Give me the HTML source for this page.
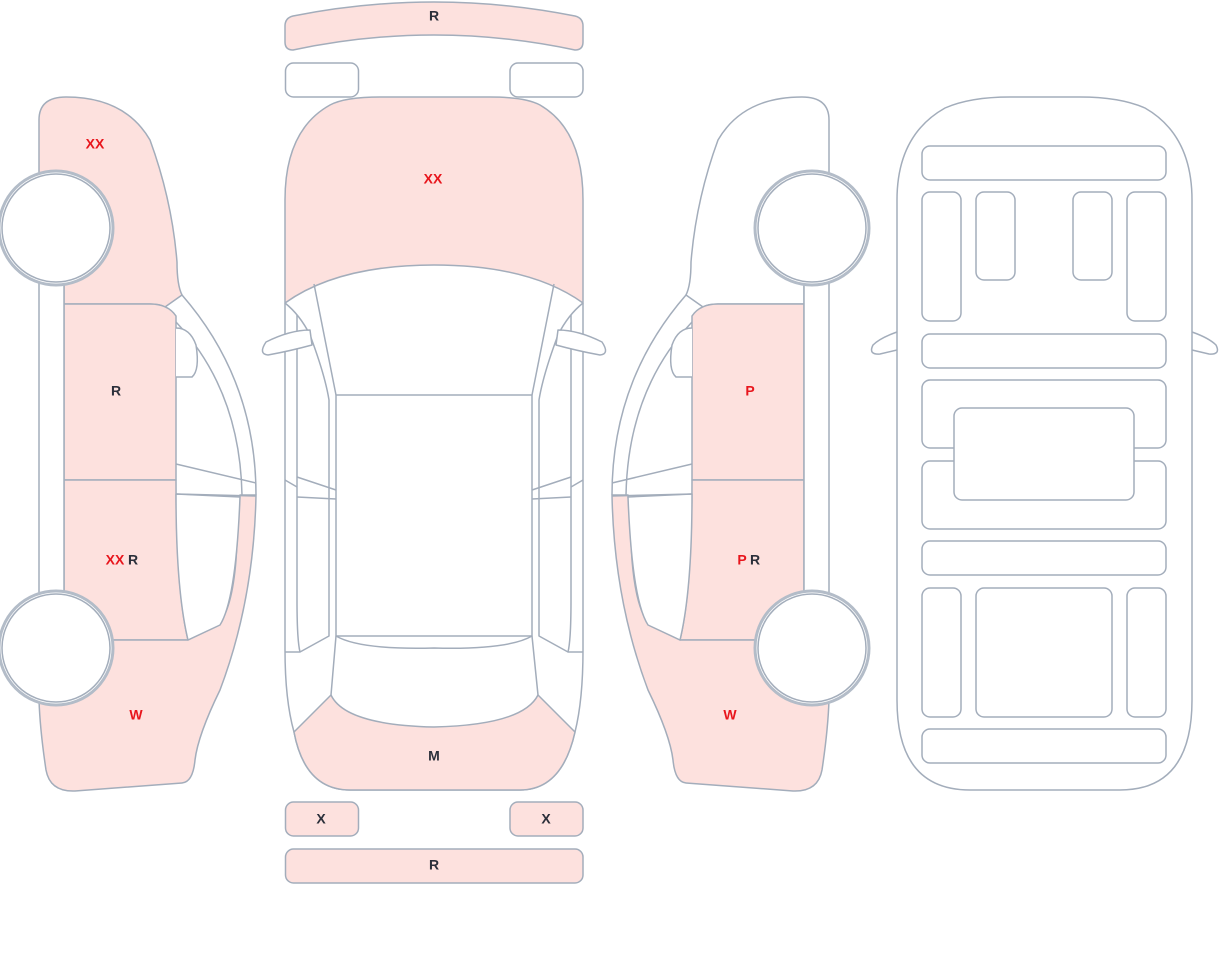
<!DOCTYPE html>
<html><head><meta charset="utf-8"><style>
html,body{margin:0;padding:0;background:#fff;width:1220px;height:967px;overflow:hidden}
svg{display:block}
text{font-family:"Liberation Sans",sans-serif;font-size:14px;font-weight:bold;text-anchor:middle;dominant-baseline:middle}
.d{fill:#2b2f3a}.r{fill:#e8151c}
</style></head><body>
<svg width="1220" height="967" viewBox="0 0 1220 967" xmlns="http://www.w3.org/2000/svg">
<defs>
<path id="front" d="M39,180 L39,120 Q39,97 66,97 Q125,97 150,140 Q172,200 177,262 Q177,285 182,295 L165,307 Q160,304 150,304 L64,304 L64,280 Z"/>
<path id="fdoor" d="M64,304 L150,304 Q168,304 176,316 L176,480 L64,480 Z"/>
<path id="rdoor" d="M64,480 L176,480 Q176,590 188,640 L64,640 Z"/>
<path id="quarter" d="M64,640 L188,640 L218,625 Q232,610 236,560 L240,495 L256,495 Q254,600 220,690 Q198,735 195,760 Q193,782 182,783 L75,791 Q50,792 46,770 Q40,730 39,700 L39,640 Z"/>
<g id="rest" fill="#fff">
<rect x="39" y="280" width="25" height="320"/>
<path d="M182,295 Q256,380 256,495" fill="none"/>
<path d="M176,322 Q240,390 242,495" fill="none"/>
<path d="M176,494 L240,497 Q236,600 220,625 L188,640 Q176,590 176,494Z"/>
<path d="M176,464 L256,483 M176,494 L256,496" fill="none"/>
<path d="M176,328 Q190,328 196,345 Q200,370 192,377 L176,377"/>
<circle cx="56" cy="228" r="57" stroke-width="3" stroke="#b3bcc8"/><circle cx="56" cy="228" r="54"/>
<circle cx="56" cy="648" r="57" stroke-width="3" stroke="#b3bcc8"/><circle cx="56" cy="648" r="54"/>
</g>
</defs>
<g stroke="#a3adbb" stroke-width="1.5" stroke-linejoin="round">
<use href="#front" fill="#fde1de"/>
<use href="#fdoor" fill="#fde1de"/>
<use href="#rdoor" fill="#fde1de"/>
<use href="#quarter" fill="#fde1de"/>
<use href="#rest"/>
<g transform="matrix(-1,0,0,1,868,0)">
<use href="#front" fill="#fff"/>
<use href="#fdoor" fill="#fde1de"/>
<use href="#rdoor" fill="#fde1de"/>
<use href="#quarter" fill="#fde1de"/>
<use href="#rest"/>
</g>
<path d="M293,16 Q434,-12 575,16 Q583,18 583,26 L583,42 Q583,50 575,50 Q434,20 293,50 Q285,50 285,42 L285,26 Q285,18 293,16Z" fill="#fde1de"/>
<rect x="285.5" y="63" width="73" height="34" rx="8" fill="#fff"/>
<rect x="510" y="63" width="73" height="34" rx="8" fill="#fff"/>
<path d="M285,303 L285,650 Q285,700 294,732 Q305,790 350,790 L520,790 Q562,790 575,732 Q583,700 583,650 L583,303" fill="#fff"/>
<path d="M285,303 L285,200 Q285,130 330,105 Q345,97 380,97 L490,97 Q525,97 540,105 Q583,130 583,200 L583,303 Q530,265 434,265 Q338,265 285,303Z" fill="#fde1de"/>
<path d="M294,732 L331,695 Q345,725 434,727 Q523,725 538,695 L575,732 Q562,790 520,790 L350,790 Q305,790 294,732Z" fill="#fde1de"/>
<g fill="none">
<path d="M314,284 L336,395 M554,284 L532,395"/>
<rect x="336" y="395" width="196" height="241"/>
<path d="M336,636 Q360,650 434,648 Q508,650 532,636"/>
<path d="M336,636 L331,695 M532,636 L538,695"/>
<path d="M285,303 Q300,315 310,335 Q325,375 329,400 L329,636 L300,652 L285,652"/>
<path d="M297,315 L297,480 L297,600 Q297,640 300,652"/>
<path d="M297,477 L336,490 M297,497 L336,499 M285,480 L297,487"/>
<path d="M583,303 Q568,315 558,335 Q543,375 539,400 L539,636 L568,652 L583,652"/>
<path d="M571,315 L571,480 L571,600 Q571,640 568,652"/>
<path d="M571,477 L532,490 M571,497 L532,499 M583,480 L571,487"/>
</g>
<path d="M310,330 Q290,330 266,342 Q258,354 268,355 Q290,351 312,345 Z" fill="#fff"/>
<path d="M558,330 Q578,330 602,342 Q610,354 600,355 Q578,351 556,345 Z" fill="#fff"/>
<rect x="285.5" y="802" width="73" height="34" rx="8" fill="#fde1de"/>
<rect x="510" y="802" width="73" height="34" rx="8" fill="#fde1de"/>
<rect x="285.5" y="849" width="297.5" height="34" rx="8" fill="#fde1de"/>
<path d="M897,332 Q880,338 873,345 Q868,355 880,354 L897,350 M1192,332 Q1209,338 1216,345 Q1221,355 1209,354 L1192,350" fill="#fff"/>
<path d="M897,700 L897,200 Q897,135 945,108 Q970,97 1010,97 L1080,97 Q1120,97 1145,108 Q1192,135 1192,200 L1192,700 Q1192,790 1120,790 L970,790 Q897,790 897,700Z" fill="#fff"/>
<g fill="#fff">
<rect x="922" y="146" width="244" height="34" rx="8"/>
<rect x="922" y="192" width="39" height="129" rx="8"/>
<rect x="976" y="192" width="39" height="88" rx="8"/>
<rect x="1073" y="192" width="39" height="88" rx="8"/>
<rect x="1127" y="192" width="39" height="129" rx="8"/>
<rect x="922" y="334" width="244" height="34" rx="8"/>
<rect x="922" y="380" width="244" height="68" rx="8"/>
<rect x="922" y="461" width="244" height="68" rx="8"/>
<rect x="954" y="408" width="180" height="92" rx="8"/>
<rect x="922" y="541" width="244" height="34" rx="8"/>
<rect x="922" y="588" width="39" height="129" rx="8"/>
<rect x="976" y="588" width="136" height="129" rx="8"/>
<rect x="1127" y="588" width="39" height="129" rx="8"/>
<rect x="922" y="729" width="244" height="34" rx="8"/>
</g>
</g>
<text x="434" y="17" class="d">R</text>
<text x="433" y="180" class="r">XX</text>
<text x="434" y="757" class="d">M</text>
<text x="321" y="820" class="d">X</text>
<text x="546" y="820" class="d">X</text>
<text x="434" y="866" class="d">R</text>
<text x="95" y="145" class="r">XX</text>
<text x="116" y="392" class="d">R</text>
<text x="115" y="561" class="r">XX</text><text x="133" y="561" class="d">R</text>
<text x="136" y="716" class="r">W</text>
<text x="750" y="392" class="r">P</text>
<text x="742" y="561" class="r">P</text><text x="755" y="561" class="d">R</text>
<text x="730" y="716" class="r">W</text>
</svg>
</body></html>
